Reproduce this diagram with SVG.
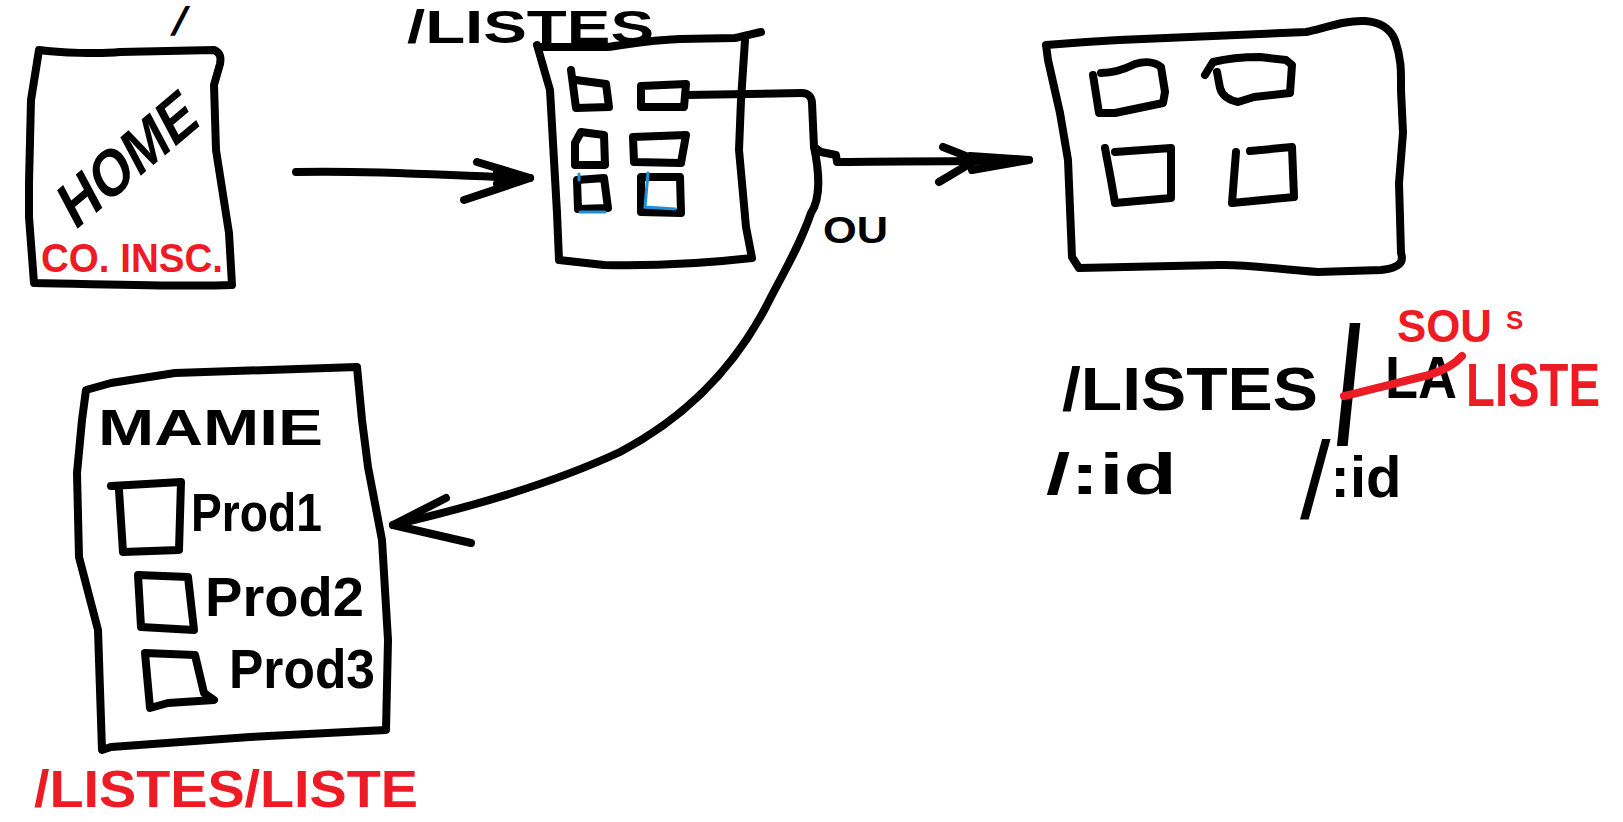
<svg xmlns="http://www.w3.org/2000/svg" width="1623" height="822" viewBox="0 0 1623 822">
<style>
.ink{fill:none;stroke:#000;stroke-width:8;stroke-linecap:round;stroke-linejoin:round}
.blue{fill:none;stroke:#1e90d8;stroke-width:3;stroke-linecap:round}
.redline{fill:none;stroke:#ed1c24;stroke-width:8;stroke-linecap:round}
.t{font-family:"Liberation Sans",Arial,sans-serif;font-weight:bold;fill:#000}
.r{font-family:"Liberation Sans",Arial,sans-serif;font-weight:bold;fill:#ed1c24}
</style>
<rect width="1623" height="822" fill="#fff"/>

<g id="connectors">
  <path class="ink" d="M296,172 C380,170 450,176 530,178"/>
  <path class="ink" d="M477,162 L530,178 L464,200 M497,172 L530,178 L497,184"/>
  <path class="ink" d="M686,95 L802,93 C808,93 812,97 812,103 L814,147 L821,152 L836,155 L837,162 C880,161 950,162 1029,160"/>
  <path class="ink" d="M943,147 L976,160 L939,182 M970,156 L1029,160 L972,170"/>
  <path class="ink" d="M814,147 C820,175 820,200 811,213 C800,245 785,270 771,297 C745,350 700,410 620,452 C560,480 480,505 393,525"/>
  <path class="ink" d="M446,498 L393,525 L471,543"/>
</g>

<g id="home">
  <text class="t" font-size="40" transform="translate(170,35) skewX(-18)">/</text>
  <path class="ink" d="M39,50 C60,53 100,54 120,52 L214,50 C221,53 221,58 220,64 L214,85 L216,150 L229,233 L232,285 C180,287 100,284 34,283 L29,217 L29,183 L31,100 Z"/>
  <text class="t" font-size="62" text-anchor="middle" textLength="165" lengthAdjust="spacingAndGlyphs" transform="translate(138,178) rotate(-40) skewX(-12)">HOME</text>
  <text class="r" x="41" y="272" font-size="40" textLength="182" lengthAdjust="spacingAndGlyphs">CO. INSC.</text>
</g>

<g id="listes">
  <text class="t" x="407" y="43" font-size="46" textLength="247" lengthAdjust="spacingAndGlyphs">/LISTES</text>
  <path class="ink" d="M539,47 L607,47 C630,44 650,40 680,39 L735,38 C745,36 752,34 761,32"/>
  <path class="ink" d="M745,40 L741,100 L739,150 L746,227 L752,258 C700,264 650,266 604,265 L559,260 L557,213 L550,90 L537,45"/>
  <path class="ink" d="M571,70 L576,108 L609,107 L606,84 L576,80"/>
  <path class="ink" d="M641,86 L686,84 L684,107 L641,107 Z"/>
  <path class="ink" d="M581,132 L604,135 L605,165 L575,165 L575,143 Z"/>
  <path class="ink" d="M633,137 L686,135 L681,163 L634,162 Z"/>
  <path class="ink" d="M577,180 L604,178 L608,208 L578,209 Z"/>
  <path class="ink" d="M641,177 L680,177 L681,213 L641,212 Z"/>
  <path class="blue" d="M579,174 L579,180 M580,212 L605,212"/>
  <path class="blue" d="M648,173 L645,207 L675,209"/>
  <text class="t" x="823" y="243" font-size="36" textLength="65" lengthAdjust="spacingAndGlyphs">OU</text>
</g>

<g id="sousliste">
  <path class="ink" d="M1046,45 C1070,43 1100,41 1119,40 L1306,32 C1325,28 1345,20 1365,21 C1380,22 1390,28 1395,40 C1402,60 1401,75 1401,90 L1403,133 L1399,183 L1401,253 C1404,262 1400,268 1381,270 L1318,272 C1280,270 1250,264 1219,265 L1079,268 L1072,257 L1068,160 L1060,113 L1048,60 Z"/>
  <path class="ink" d="M1093,75 L1099,113 L1115,113 L1163,103 L1165,92 L1161,67 C1155,62 1145,61 1135,64 C1125,69 1115,73 1101,73"/>
  <path class="ink" d="M1205,75 L1213,62 C1225,59 1240,57 1260,57 L1286,60 L1292,65 L1290,93 L1254,97 L1238,102 C1228,100 1222,95 1220,88 L1217,72"/>
  <path class="ink" d="M1105,148 L1111,180 L1115,203 L1171,198 L1171,148 L1115,152"/>
  <path class="ink" d="M1236,152 L1232,203 L1294,197 L1292,147 L1250,151"/>
</g>

<g id="url-labels">
  <text class="t" x="1062" y="410" font-size="62" textLength="256" lengthAdjust="spacingAndGlyphs">/LISTES</text>
  <text class="t" font-size="165" font-weight="normal" transform="translate(1336,443) scale(0.55,1)">/</text>
  <text class="t" x="1385" y="398" font-size="60" textLength="72" lengthAdjust="spacingAndGlyphs">LA</text>
  <path class="redline" d="M1344,396 C1370,390 1400,382 1429,375 C1445,370 1455,364 1462,356"/>
  <text class="r" x="1397" y="342" font-size="46" textLength="95" lengthAdjust="spacingAndGlyphs">SOU</text>
  <text class="r" x="1506" y="329" font-size="26">S</text>
  <text class="r" x="1466" y="406" font-size="62" textLength="134" lengthAdjust="spacingAndGlyphs">LISTE</text>
  <text class="t" x="1046" y="494" font-size="58" textLength="131" lengthAdjust="spacingAndGlyphs">/:id</text>
  <text class="t" x="1300" y="518"><tspan font-size="110" font-weight="normal">/</tspan><tspan font-size="58" dy="-21">:id</tspan></text>
</g>

<g id="mamie">
  <path class="ink" d="M86,390 L111,383 L175,373 L357,367 L362,420 L368,467 L382,540 L388,640 L386,730 L250,737 L111,747 L102,750 L98,630 L79,557 L77,473 L82,420 Z"/>
  <text class="t" x="98" y="445" font-size="50" textLength="225" lengthAdjust="spacingAndGlyphs">MAMIE</text>
  <path class="ink" d="M111,486 L181,482 L179,550 L123,552 L119,490"/>
  <text class="t" x="191" y="531" font-size="54" textLength="131" lengthAdjust="spacingAndGlyphs">Prod1</text>
  <path class="ink" d="M138,575 L188,577 L194,630 L141,627 Z"/>
  <text class="t" x="205" y="616" font-size="56" textLength="159" lengthAdjust="spacingAndGlyphs">Prod2</text>
  <path class="ink" d="M145,653 L195,655 L204,693 L214,700 L168,703 L150,708 Z"/>
  <text class="t" x="229" y="688" font-size="56" textLength="146" lengthAdjust="spacingAndGlyphs">Prod3</text>
  <text class="r" x="34" y="807" font-size="52" textLength="384" lengthAdjust="spacingAndGlyphs">/LISTES/LISTE</text>
</g>
</svg>
